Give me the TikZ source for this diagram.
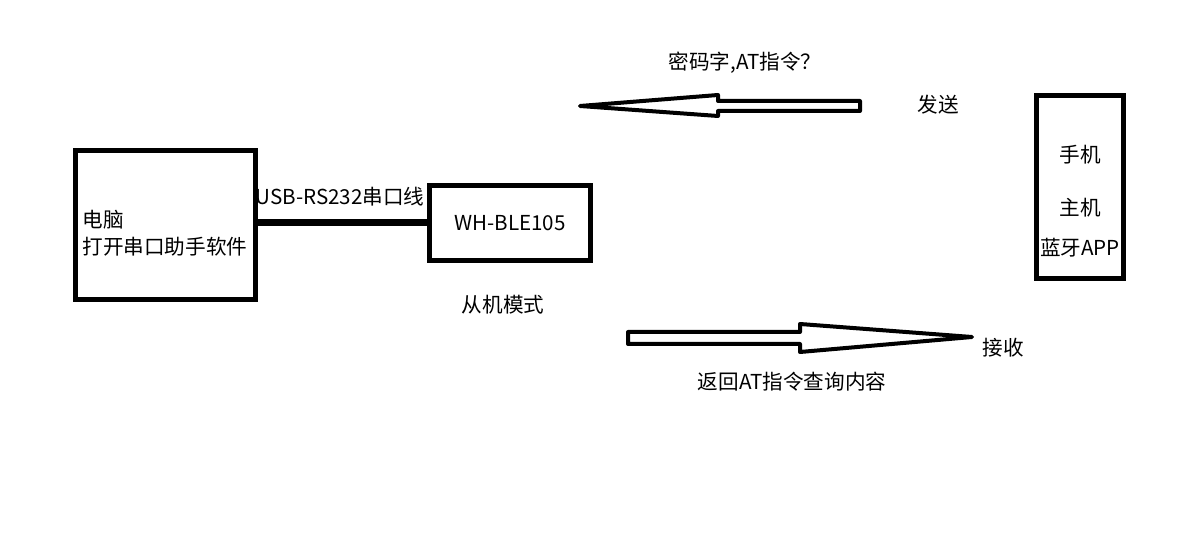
\documentclass[tikz,border=0pt]{standalone}
\usepackage{fontspec}
\newfontfamily\cjk{Noto Sans CJK SC}
\usetikzlibrary{positioning}

\begin{document}
\begin{tikzpicture}[x=0.5pt, y=-0.5pt, font=\cjk\fontsize{10.3}{13.5}\selectfont,
    block/.style={rectangle, draw, line width=2.5pt, inner sep=0pt},
    label/.style={inner sep=0pt},
    hollow/.style={draw, line width=2pt, line join=round, fill=white},
    cable/.style={line width=3.5pt}]
    \useasboundingbox (0,0) rectangle (1190,533);
    % boxes
    \node [block, minimum width=90pt, minimum height=74.5pt] (pc) at (165.5,225) {};
    \node [block, minimum width=80.5pt, minimum height=37.5pt] (ble) at (510,223) {WH-BLE105};
    \node [block, minimum width=43.5pt, minimum height=91.5pt] (phone) at (1080,187) {};
    \node [label, anchor=west, align=left] (pctext) at (82,233) {电脑\\打开串口助手软件};
    \node [label] (phone1) at (1080,155) {手机};
    \node [label] (phone2) at (1080,208) {主机};
    \node [label] (phone3) at (1080,248) {蓝牙APP};
    \node [label, below=16pt of ble, xshift=-3.5pt] (mode) {从机模式};
    % cable
    \draw[cable] (ble.west -| pc.east) -- (ble.west);
    \node [label] (cablelabel) at (340,197) {USB-RS232串口线};
    % send arrow
    \draw[hollow] (860,101) -- (718,101) -- (718,95) -- (580,106) -- (718,116) -- (718,111) -- (860,111) -- cycle;
    \node [label] (sendtext) at (745,63) {密码字,AT指令？};
    \node [label] (send) at (938,105) {发送};
    % receive arrow
    \draw[hollow] (628,332) -- (800,332) -- (800,324) -- (972,337) -- (800,352) -- (800,344) -- (628,344) -- cycle;
    \node [label] (recv) at (1003,348) {接收};
    \node [label] (recvtext) at (792,382) {返回AT指令查询内容};
\end{tikzpicture}
\end{document}
